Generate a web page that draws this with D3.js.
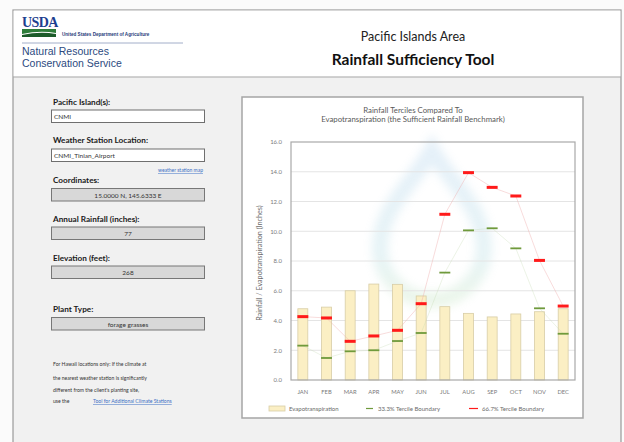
<!DOCTYPE html>
<html>
<head>
<meta charset="utf-8">
<script src="https://cdn.jsdelivr.net/npm/d3@7"></script>
<style>
  html, body { margin: 0; padding: 0; background: #ffffff; }
  svg { display: block; }
</style>
</head>
<body>
<svg id="page" width="624" height="442"></svg>
<script>
// Monthly climate values for CNMI_Tinian_Airport (inches)
const months = ["JAN","FEB","MAR","APR","MAY","JUN","JUL","AUG","SEP","OCT","NOV","DEC"];
const evapotranspiration = [4.79, 4.90, 6.00, 6.45, 6.43, 5.65, 4.93, 4.48, 4.24, 4.44, 4.59, 4.79];
const tercile33 = [2.31, 1.48, 1.93, 2.00, 2.62, 3.16, 7.22, 10.06, 10.20, 8.85, 4.82, 3.11];
const tercile67 = [4.26, 4.17, 2.60, 2.96, 3.34, 5.13, 11.14, 13.94, 12.95, 12.37, 8.04, 4.97];
const yTicks = [0, 2, 4, 6, 8, 10, 12, 14, 16];

// Form fields shown in the left panel
const fieldLabels = ["Pacific Island(s):", "Weather Station Location:", "Coordinates:", "Annual Rainfall (inches):", "Elevation (feet):", "Plant Type:"];
const fieldValues = ["CNMI", "CNMI_Tinian_Airport", "15.0000 N, 145.6333 E", "77", "268", "forage grasses"];
const noteLines = ["For Hawaii locations only: If the climate at", "the nearest weather station is significantly", "different from the client's planting site,", "use the"];

const svg = d3.select("#page");
const uiFont = "Lato, 'Open Sans', sans-serif";

// ---------- page frame ----------
svg.append("rect").attr("x", 0).attr("y", 0).attr("width", 624).attr("height", 442).attr("fill", "#fbfbfb");
svg.append("rect").attr("x", 13).attr("y", 10).attr("width", 608).attr("height", 440)
  .attr("fill", "#f1f1f1").attr("stroke", "#9a9a9a").attr("stroke-width", 1.2);
svg.append("rect").attr("x", 13.6).attr("y", 10.6).attr("width", 606.8).attr("height", 66)
  .attr("fill", "#ffffff");
svg.append("line").attr("x1", 13).attr("x2", 621).attr("y1", 77).attr("y2", 77)
  .attr("stroke", "#a8a8a8").attr("stroke-width", 1.2);

// ---------- agency header ----------
const hdr = svg.append("g");
hdr.append("text").attr("x", 22).attr("y", 27).text("USDA")
  .attr("font-family", "'Liberation Serif', serif").attr("font-weight", "bold")
  .attr("font-size", 14).attr("fill", "#1d3f8f").attr("letter-spacing", -0.6);
hdr.append("path").attr("d", "M22,29 L56,29 L56,33 Q40,30 22,34 Z").attr("fill", "#2e7d3a");
hdr.append("path").attr("d", "M22,35 Q40,31 56,34 L56,37 L22,37 Z").attr("fill", "#1c5b2a");
hdr.append("text").attr("x", 62).attr("y", 35.5).text("United States Department of Agriculture")
  .attr("font-family", "'Liberation Sans', Arial, sans-serif").attr("font-size", 4.6)
  .attr("font-weight", "bold").attr("fill", "#27407a");
hdr.append("line").attr("x1", 22).attr("x2", 183).attr("y1", 43).attr("y2", 43)
  .attr("stroke", "#8b9bbb").attr("stroke-width", 0.8);
hdr.append("text").attr("x", 22).attr("y", 55).text("Natural Resources")
  .attr("font-family", "'Liberation Sans', Arial, sans-serif").attr("font-size", 10.5).attr("fill", "#2c4a80");
hdr.append("text").attr("x", 22).attr("y", 67).text("Conservation Service")
  .attr("font-family", "'Liberation Sans', Arial, sans-serif").attr("font-size", 10.5).attr("fill", "#2c4a80");

svg.append("text").attr("x", 413).attr("y", 41).attr("text-anchor", "middle")
  .text("Pacific Islands Area").attr("font-family", uiFont).attr("font-size", 12.5).attr("fill", "#222");
svg.append("text").attr("x", 413).attr("y", 65).attr("text-anchor", "middle")
  .text("Rainfall Sufficiency Tool").attr("font-family", uiFont).attr("font-weight", "bold")
  .attr("font-size", 15.5).attr("fill", "#111");

// ---------- left input panel ----------
const labelY = [105, 143, 183, 222, 261, 312];
const boxY = [110, 149, 188.5, 227, 266, 317.5];
const editable = [true, true, false, false, false, false];
const panel = svg.append("g");
fieldLabels.forEach((lab, i) => {
  panel.append("text").attr("x", 53).attr("y", labelY[i]).text(lab)
    .attr("font-family", uiFont).attr("font-weight", "bold").attr("font-size", 8.2).attr("fill", "#1a1a1a");
  panel.append("rect").attr("x", 51.5).attr("y", boxY[i]).attr("width", 153).attr("height", 12.5)
    .attr("fill", editable[i] ? "#ffffff" : "#d8d8d8")
    .attr("stroke", editable[i] ? "#6f6f6f" : "#777777").attr("stroke-width", 1);
  panel.append("text")
    .attr("x", editable[i] ? 54 : 128).attr("y", boxY[i] + 9)
    .attr("text-anchor", editable[i] ? "start" : "middle")
    .text(fieldValues[i]).attr("font-family", uiFont).attr("font-size", 6.5).attr("fill", "#333");
});
panel.append("text").attr("x", 203).attr("y", 172).attr("text-anchor", "end")
  .text("weather station map").attr("font-family", uiFont).attr("font-size", 5)
  .attr("fill", "#3b6fc4").attr("text-decoration", "underline");
noteLines.forEach((t, i) => {
  panel.append("text").attr("x", 53).attr("y", [366, 379.5, 392, 403][i]).text(t)
    .attr("font-family", uiFont).attr("font-size", 5.1).attr("fill", "#333");
});
panel.append("text").attr("x", 93).attr("y", 403).text("Tool for Additional Climate Stations")
  .attr("font-family", uiFont).attr("font-size", 5.1).attr("fill", "#3b6fc4").attr("text-decoration", "underline");

// ---------- chart container ----------
const box = { x: 242, y: 97, w: 341, h: 321 };
svg.append("rect").attr("x", box.x).attr("y", box.y).attr("width", box.w).attr("height", box.h)
  .attr("fill", "#ffffff").attr("stroke", "#a5a5a5").attr("stroke-width", 1.5);

svg.append("text").attr("x", 413).attr("y", 112.5).attr("text-anchor", "middle")
  .text("Rainfall Terciles Compared To").attr("font-family", uiFont).attr("font-size", 7.8).attr("fill", "#595959");
svg.append("text").attr("x", 413).attr("y", 122).attr("text-anchor", "middle")
  .text("Evapotranspiration (the Sufficient Rainfall Benchmark)").attr("font-family", uiFont)
  .attr("font-size", 7.8).attr("fill", "#595959");

const plot = { left: 291, right: 575, top: 142, bottom: 380 };
const x = d3.scaleBand().domain(months).range([plot.left, plot.right]).paddingInner(0.58).paddingOuter(0.29);
const y = d3.scaleLinear().domain([0, 16]).range([plot.bottom, plot.top]);

const defs = svg.append("defs");
const blur = defs.append("filter").attr("id", "soft").attr("x", "-50%").attr("y", "-50%").attr("width", "200%").attr("height", "200%");
blur.append("feGaussianBlur").attr("stdDeviation", 5);
const dropGrad = defs.append("linearGradient").attr("id", "dropGrad").attr("x1", 0).attr("y1", 0).attr("x2", 0).attr("y2", 1);
dropGrad.append("stop").attr("offset", "0%").attr("stop-color", "#7fb6e0");
dropGrad.append("stop").attr("offset", "70%").attr("stop-color", "#86c7d3");
dropGrad.append("stop").attr("offset", "100%").attr("stop-color", "#9fd39a");

// faint water-drop emblem behind the plot
const cx = 432, cyTop = 150, cyC = 248, r = 52;
const dropPath = `M${cx},${cyTop} C${cx + 20},${cyTop + 35} ${cx + r},${cyC - 40} ${cx + r},${cyC}
  A${r},${r} 0 1 1 ${cx - r},${cyC} C${cx - r},${cyC - 40} ${cx - 20},${cyTop + 35} ${cx},${cyTop} Z`;
svg.append("path").attr("d", dropPath).attr("fill", "none").attr("stroke", "url(#dropGrad)")
  .attr("stroke-width", 16).attr("opacity", 0.2).attr("filter", "url(#soft)");

// gridlines
svg.append("g").selectAll("line").data(yTicks.filter(d => d > 0 && d < 16)).join("line")
  .attr("x1", plot.left).attr("x2", plot.right)
  .attr("y1", d => y(d)).attr("y2", d => y(d))
  .attr("stroke", "#e4e4e4").attr("stroke-width", 1);

// y axis
const yAxis = svg.append("g").attr("transform", `translate(${plot.left - 9},0)`)
  .call(d3.axisLeft(y).tickValues(yTicks).tickFormat(d3.format(".1f")).tickSize(0).tickPadding(0));
yAxis.select(".domain").remove();
yAxis.selectAll("text").attr("font-family", uiFont).attr("font-size", 6).attr("fill", "#7a7a7a");

// x axis labels
const xAxis = svg.append("g").attr("transform", `translate(0,${plot.bottom + 6})`)
  .call(d3.axisBottom(x).tickSize(0).tickPadding(4));
xAxis.select(".domain").remove();
xAxis.selectAll("text").attr("font-family", uiFont).attr("font-size", 5.8).attr("fill", "#7a7a7a");

svg.append("text").attr("transform", `translate(262,${(plot.top + plot.bottom) / 2 + 2}) rotate(-90)`)
  .attr("text-anchor", "middle").text("Rainfall / Evapotranspiration (Inches)")
  .attr("font-family", uiFont).attr("font-size", 7.2).attr("fill", "#6a6a6a");

// evapotranspiration bars
svg.append("g").selectAll("rect").data(months).join("rect")
  .attr("x", d => x(d)).attr("width", x.bandwidth())
  .attr("y", (d, i) => y(evapotranspiration[i]))
  .attr("height", (d, i) => y(0) - y(evapotranspiration[i]))
  .attr("fill", "#fbefc4").attr("stroke", "#d8cda6").attr("stroke-width", 0.8);

// faint connector lines between tercile markers
const mid = d => x(d) + x.bandwidth() / 2;
const lineGen = vals => d3.line().x(d => mid(d)).y((d, i) => y(vals[i]))(months);
svg.append("path").attr("d", lineGen(tercile33)).attr("fill", "none")
  .attr("stroke", "#c2d9ae").attr("stroke-width", 0.7).attr("opacity", 0.45);
svg.append("path").attr("d", lineGen(tercile67)).attr("fill", "none")
  .attr("stroke", "#eeaaaa").attr("stroke-width", 0.7).attr("opacity", 0.6);

// tercile markers
const mw = x.bandwidth() + 1;
svg.append("g").selectAll("rect").data(months).join("rect")
  .attr("x", d => mid(d) - mw / 2).attr("width", mw)
  .attr("y", (d, i) => y(tercile33[i]) - 0.9).attr("height", 1.8)
  .attr("fill", "#6f9a3c");
svg.append("g").selectAll("rect").data(months).join("rect")
  .attr("x", d => mid(d) - mw / 2).attr("width", mw)
  .attr("y", (d, i) => y(tercile67[i]) - 1.5).attr("height", 3)
  .attr("fill", "#ff1a1a");

// plot frame
svg.append("rect").attr("x", plot.left).attr("y", plot.top)
  .attr("width", plot.right - plot.left).attr("height", plot.bottom - plot.top)
  .attr("fill", "none").attr("stroke", "#a9a9a9").attr("stroke-width", 1.2);

// legend
const lg = svg.append("g").attr("font-family", uiFont).attr("font-size", 6).attr("fill", "#6a6a6a");
lg.append("rect").attr("x", 269).attr("y", 406).attr("width", 16).attr("height", 5)
  .attr("fill", "#fbefc4").attr("stroke", "#d8cda6").attr("stroke-width", 0.8);
lg.append("text").attr("x", 289).attr("y", 411).text("Evapotranspiration");
lg.append("line").attr("x1", 366).attr("x2", 373).attr("y1", 408.5).attr("y2", 408.5)
  .attr("stroke", "#6f9a3c").attr("stroke-width", 1.2);
lg.append("text").attr("x", 378).attr("y", 411).text("33.3% Tercile Boundary");
lg.append("line").attr("x1", 469).attr("x2", 478).attr("y1", 408.5).attr("y2", 408.5)
  .attr("stroke", "#ff1a1a").attr("stroke-width", 1.2);
lg.append("text").attr("x", 482).attr("y", 411).text("66.7% Tercile Boundary");
</script>
</body>
</html>
